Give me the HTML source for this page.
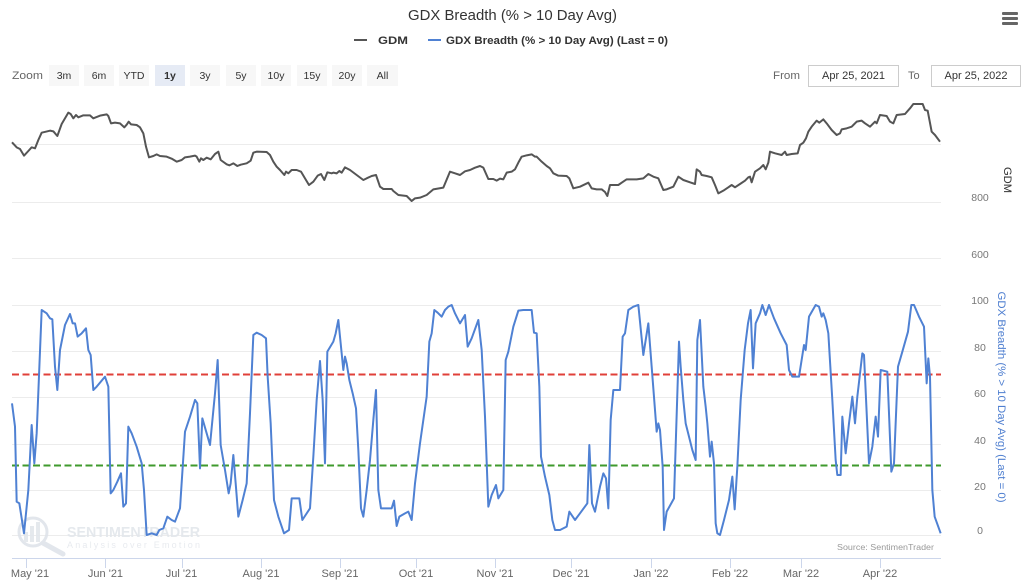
<!DOCTYPE html>
<html>
<head>
<meta charset="utf-8">
<style>
  html,body{margin:0;padding:0;background:#fff;}
  svg{display:block;font-family:"Liberation Sans",sans-serif;}
</style>
</head>
<body>
<svg width="1024" height="587" viewBox="0 0 1024 587" xmlns="http://www.w3.org/2000/svg">
  <rect x="0" y="0" width="1024" height="587" fill="#fff"/>

  <!-- Title -->
  <text x="512.5" y="20" text-anchor="middle" font-size="15" fill="#333" textLength="209" lengthAdjust="spacingAndGlyphs">GDX Breadth (% &gt; 10 Day Avg)</text>

  <!-- Hamburger -->
  <rect x="1002" y="12" width="16" height="3" fill="#666" rx="1"/>
  <rect x="1002" y="17" width="16" height="3" fill="#666" rx="1"/>
  <rect x="1002" y="22" width="16" height="3" fill="#666" rx="1"/>

  <!-- Legend -->
  <line x1="354" y1="40" x2="367" y2="40" stroke="#555" stroke-width="2"/>
  <text x="378" y="44" font-size="11" font-weight="bold" fill="#333" textLength="30" lengthAdjust="spacingAndGlyphs">GDM</text>
  <line x1="428" y1="40" x2="441" y2="40" stroke="#4f81d3" stroke-width="2"/>
  <text x="446" y="44" font-size="11" font-weight="bold" fill="#333" textLength="222" lengthAdjust="spacingAndGlyphs">GDX Breadth (% &gt; 10 Day Avg) (Last = 0)</text>

  <!-- Range selector -->
  <text x="12" y="79" font-size="11" fill="#666" textLength="31" lengthAdjust="spacingAndGlyphs">Zoom</text>
  <g font-size="10.5" fill="#333" text-anchor="middle">
    <rect x="49" y="65" width="30" height="21" fill="#f7f7f7"/><text x="64" y="79">3m</text>
    <rect x="84" y="65" width="30" height="21" fill="#f7f7f7"/><text x="99" y="79">6m</text>
    <rect x="119" y="65" width="30" height="21" fill="#f7f7f7"/><text x="134" y="79">YTD</text>
    <rect x="155" y="65" width="30" height="21" fill="#e6ebf5"/><text x="170" y="79" font-weight="bold">1y</text>
    <rect x="190" y="65" width="30" height="21" fill="#f7f7f7"/><text x="205" y="79">3y</text>
    <rect x="226" y="65" width="30" height="21" fill="#f7f7f7"/><text x="241" y="79">5y</text>
    <rect x="261" y="65" width="30" height="21" fill="#f7f7f7"/><text x="276" y="79">10y</text>
    <rect x="297" y="65" width="30" height="21" fill="#f7f7f7"/><text x="312" y="79">15y</text>
    <rect x="332" y="65" width="30" height="21" fill="#f7f7f7"/><text x="347" y="79">20y</text>
    <rect x="367" y="65" width="31" height="21" fill="#f7f7f7"/><text x="382.5" y="79">All</text>
  </g>
  <text x="773" y="79" font-size="11" fill="#666" textLength="27" lengthAdjust="spacingAndGlyphs">From</text>
  <rect x="808.5" y="65.5" width="90" height="21" fill="#fff" stroke="#ccc" stroke-width="1"/>
  <text x="853.5" y="79" font-size="11" fill="#333" text-anchor="middle">Apr 25, 2021</text>
  <text x="908" y="79" font-size="11" fill="#666">To</text>
  <rect x="931.5" y="65.5" width="89" height="21" fill="#fff" stroke="#ccc" stroke-width="1"/>
  <text x="976" y="79" font-size="11" fill="#333" text-anchor="middle">Apr 25, 2022</text>

  <!-- Grid lines top pane -->
  <g stroke="#ececec" stroke-width="1">
    <line x1="12" y1="144.5" x2="941" y2="144.5"/>
    <line x1="12" y1="202.5" x2="941" y2="202.5"/>
    <line x1="12" y1="258.5" x2="941" y2="258.5"/>
  </g>
  <!-- Grid lines bottom pane -->
  <g stroke="#ececec" stroke-width="1">
    <line x1="12" y1="305.5" x2="941" y2="305.5"/>
    <line x1="12" y1="351.5" x2="941" y2="351.5"/>
    <line x1="12" y1="397.5" x2="941" y2="397.5"/>
    <line x1="12" y1="444.5" x2="941" y2="444.5"/>
    <line x1="12" y1="490.5" x2="941" y2="490.5"/>
    <line x1="12" y1="535.5" x2="941" y2="535.5"/>
  </g>

  <!-- Watermark -->
  <g opacity="0.9">
    <circle cx="33" cy="532" r="14" fill="none" stroke="#dfe4ea" stroke-width="3"/>
    <rect x="24" y="532" width="4" height="10" fill="#e3e7ec"/>
    <rect x="30" y="526" width="4" height="16" fill="#e3e7ec"/>
    <rect x="36" y="522" width="4" height="20" fill="#e3e7ec"/>
    <line x1="43" y1="543" x2="63" y2="554" stroke="#dfe4ea" stroke-width="5" stroke-linecap="round"/>
    <text x="67" y="537" font-size="15" font-weight="bold" fill="#e3e7ec" textLength="133" lengthAdjust="spacingAndGlyphs">SENTIMENTRADER</text>
    <text x="67" y="548" font-size="9" fill="#e6e9ee" textLength="133" lengthAdjust="spacing">Analysis over Emotion</text>
  </g>

  <!-- Threshold lines -->
  <line x1="12" y1="374.5" x2="941" y2="374.5" stroke="#e0403a" stroke-width="2" stroke-dasharray="7,3.5"/>
  <line x1="12" y1="465.5" x2="941" y2="465.5" stroke="#3f9a2d" stroke-width="2" stroke-dasharray="7,3.5"/>

  <!-- GDM series -->
  <g transform="translate(0,90) scale(0.333333)">
    <polyline fill="none" stroke="#555" stroke-width="2" vector-effect="non-scaling-stroke" stroke-linejoin="round"
      points="36,157 50,172 60,177 72,197 85,183 95,172 105,175 115,150 125,128 150,122 160,124 172,138 185,102 205,68 212,72 220,85 228,75 235,82 250,76 270,76 280,85 300,77 320,73 325,78 333,100 345,98 360,100 373,112 380,104 386,95 393,103 410,105 420,112 430,130 438,170 447,202 460,198 470,193 480,198 500,200 515,206 530,215 545,210 555,202 570,200 585,197 590,200 598,215 603,205 610,210 620,203 632,208 645,192 655,185 662,210 680,223 688,226 700,220 712,228 722,224 740,220 752,212 760,188 770,185 800,186 810,195 820,215 830,230 840,240 853,255 858,245 865,250 875,240 890,240 903,245 915,265 927,285 940,275 953,257 963,252 973,270 982,247 995,250 1000,248 1010,250 1018,243 1025,248 1035,232 1050,240 1070,255 1090,270 1100,265 1115,258 1128,255 1140,290 1150,297 1175,297 1180,303 1195,315 1220,318 1235,333 1245,325 1260,323 1280,315 1300,298 1330,293 1350,245 1365,250 1380,255 1395,244 1410,240 1425,233 1440,228 1450,233 1465,267 1480,267 1490,272 1500,266 1510,268 1520,248 1535,245 1545,238 1555,218 1565,200 1580,196 1595,193 1605,200 1610,200 1625,215 1640,228 1650,235 1660,250 1675,257 1700,258 1708,265 1720,295 1740,290 1765,278 1775,295 1790,298 1805,298 1815,306 1822,318 1830,285 1855,285 1865,278 1880,268 1910,268 1930,265 1945,252 1960,260 1975,265 1990,300 2000,298 2020,290 2035,260 2050,270 2070,277 2085,282 2090,238 2100,245 2105,255 2120,258 2135,262 2145,285 2155,310 2170,302 2185,292 2195,285 2205,292 2220,282 2235,272 2245,262 2250,260 2255,277 2265,245 2280,235 2290,225 2297,238 2305,218 2310,185 2325,190 2345,195 2355,185 2360,195 2375,192 2393,190 2400,165 2410,158 2418,145 2425,125 2435,110 2450,92 2458,98 2470,88 2480,100 2495,120 2510,135 2520,130 2525,118 2540,115 2555,110 2560,105 2570,95 2585,92 2595,100 2610,110 2625,95 2630,100 2640,75 2660,78 2670,95 2680,100 2690,75 2715,72 2730,55 2740,42 2768,42 2775,60 2783,62 2795,125 2805,135 2820,155"/>
  </g>

  <!-- Breadth series -->
  <g transform="translate(0,290) scale(0.333333)">
    <polyline fill="none" stroke="#4f81d3" stroke-width="2" vector-effect="non-scaling-stroke" stroke-linejoin="round"
      points="36,340 45,410 50,635 58,640 72,730 85,600 95,405 103,520 110,430 125,60 140,70 150,85 157,88 165,230 172,300 180,180 195,105 210,72 218,100 225,100 233,140 245,130 258,115 265,180 272,195 280,300 290,290 315,260 325,290 332,610 340,600 352,575 363,550 370,650 378,640 385,410 395,430 410,470 425,520 432,600 440,735 455,730 470,735 478,720 490,715 502,680 515,690 525,695 540,655 555,425 570,380 585,330 592,340 600,535 607,385 620,430 630,465 645,310 653,210 662,465 675,540 686,610 692,580 700,495 707,580 715,680 728,630 740,580 750,370 760,135 770,128 785,135 798,145 803,260 812,400 822,630 835,680 852,730 867,720 875,625 898,625 907,690 930,655 940,500 950,330 960,213 968,330 975,520 982,185 1000,155 1007,130 1015,90 1025,190 1030,240 1035,200 1040,220 1048,270 1058,310 1068,355 1075,480 1083,655 1090,680 1100,600 1110,510 1120,390 1128,300 1135,600 1143,655 1160,655 1175,655 1182,632 1190,708 1198,680 1215,670 1225,665 1235,690 1245,580 1260,460 1280,320 1288,155 1295,130 1303,60 1313,68 1325,80 1335,60 1345,50 1355,45 1365,70 1380,100 1395,75 1403,170 1415,145 1435,90 1445,180 1455,380 1465,650 1475,615 1488,585 1495,625 1510,600 1517,210 1525,185 1540,110 1555,62 1570,60 1595,60 1602,128 1610,130 1618,290 1623,500 1635,560 1648,615 1657,690 1665,720 1680,720 1700,710 1708,665 1725,690 1740,670 1762,640 1768,465 1776,640 1785,665 1800,590 1810,550 1818,565 1825,655 1832,390 1840,300 1860,300 1868,140 1875,130 1885,60 1900,50 1915,45 1930,195 1945,100 1955,230 1970,425 1975,400 1980,420 1988,530 1992,720 2000,665 2022,625 2037,155 2042,230 2050,330 2057,400 2067,440 2077,480 2087,510 2092,150 2100,90 2110,290 2117,350 2122,400 2130,500 2135,455 2142,520 2147,700 2152,730 2160,735 2172,690 2187,630 2197,560 2204,658 2212,530 2222,330 2234,180 2244,100 2252,60 2259,235 2267,100 2280,70 2287,45 2297,75 2307,45 2322,85 2342,130 2360,165 2367,240 2377,260 2397,260 2412,165 2417,180 2427,80 2447,45 2457,50 2465,80 2470,70 2477,90 2485,130 2497,330 2507,510 2512,555 2522,555 2527,380 2537,490 2547,400 2557,320 2565,400 2572,320 2587,190 2592,195 2607,520 2617,470 2627,380 2634,440 2642,240 2662,245 2674,545 2682,520 2694,230 2707,185 2724,125 2734,45 2742,45 2757,80 2772,110 2780,280 2785,205 2790,260 2797,600 2804,680 2822,730"/>
  </g>

  <!-- Source -->
  <text x="934" y="550" font-size="8" fill="#999" text-anchor="end" textLength="97" lengthAdjust="spacingAndGlyphs">Source: SentimenTrader</text>

  <!-- X axis -->
  <line x1="12" y1="558.5" x2="941" y2="558.5" stroke="#ccd6eb" stroke-width="1"/>
  <g stroke="#ccd6eb" stroke-width="1">
    <line x1="26.5" y1="558" x2="26.5" y2="568"/>
    <line x1="105.5" y1="558" x2="105.5" y2="568"/>
    <line x1="182.5" y1="558" x2="182.5" y2="568"/>
    <line x1="261.5" y1="558" x2="261.5" y2="568"/>
    <line x1="340.5" y1="558" x2="340.5" y2="568"/>
    <line x1="416.5" y1="558" x2="416.5" y2="568"/>
    <line x1="495.5" y1="558" x2="495.5" y2="568"/>
    <line x1="571.5" y1="558" x2="571.5" y2="568"/>
    <line x1="651.5" y1="558" x2="651.5" y2="568"/>
    <line x1="730.5" y1="558" x2="730.5" y2="568"/>
    <line x1="801.5" y1="558" x2="801.5" y2="568"/>
    <line x1="880.5" y1="558" x2="880.5" y2="568"/>
  </g>
  <g font-size="11" fill="#666" text-anchor="middle">
    <text x="30" y="577">May '21</text>
    <text x="105.5" y="577">Jun '21</text>
    <text x="181.5" y="577">Jul '21</text>
    <text x="261" y="577">Aug '21</text>
    <text x="340" y="577">Sep '21</text>
    <text x="416" y="577">Oct '21</text>
    <text x="495" y="577">Nov '21</text>
    <text x="571" y="577">Dec '21</text>
    <text x="651" y="577">Jan '22</text>
    <text x="730" y="577">Feb '22</text>
    <text x="801" y="577">Mar '22</text>
    <text x="880" y="577">Apr '22</text>
  </g>

  <!-- Y axis labels -->
  <g font-size="10.5" fill="#777" text-anchor="middle">
    <text x="980" y="201">800</text>
    <text x="980" y="258">600</text>
    <text x="980" y="304">100</text>
    <text x="980" y="351">80</text>
    <text x="980" y="397">60</text>
    <text x="980" y="444">40</text>
    <text x="980" y="490">20</text>
    <text x="980" y="534">0</text>
  </g>

  <!-- Axis titles -->
  <text transform="translate(1004,180) rotate(90)" font-size="11" fill="#333" text-anchor="middle" textLength="26" lengthAdjust="spacingAndGlyphs">GDM</text>
  <text transform="translate(998,397) rotate(90)" font-size="11" fill="#4f7fd0" text-anchor="middle" textLength="211" lengthAdjust="spacingAndGlyphs">GDX Breadth (% &gt; 10 Day Avg) (Last = 0)</text>
</svg>
</body>
</html>
